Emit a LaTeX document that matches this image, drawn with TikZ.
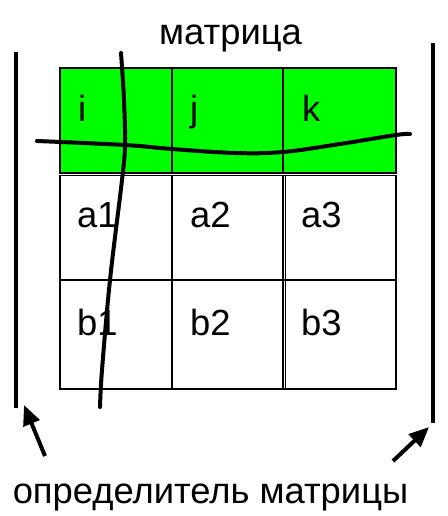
\documentclass[tikz,border=0pt]{standalone}
\usepackage{fontspec}
\setmainfont{Liberation Sans}
\usetikzlibrary{arrows.meta}
\begin{document}
\begin{tikzpicture}[x=1bp,y=-1bp,
  grid/.style={draw=black,line width=1.8bp},
  lbl/.style={anchor=base west,inner sep=0,font=\fontsize{36.5}{42}\selectfont},
  bar/.style={line width=3.8bp},
  wave/.style={line width=4bp,line cap=round},
  pointer/.style={line width=4bp,-{Triangle[length=20bp,width=17bp]}}]
\useasboundingbox (0,0) rectangle (448,516);
% header row (green)
\fill[green] (60,68) rectangle (396,173);
\draw[grid] (60,68) rectangle (396,173);
\draw[grid] (172,68) -- (172,173);
\draw[grid] (283,68) -- (283,173);
% body rows
\draw[grid] (60,175.5) rectangle (396,389);
\draw[grid] (60,280) -- (396,280);
\draw[grid] (172,175.5) -- (172,389);
\draw[grid] (283,175.5) -- (283,389);
\draw[line width=1bp] (285.5,175.5) -- (285.5,389);
% labels
\node[lbl] (i) at (78,122) {i};
\node[lbl] (j) at (190,122) {j};
\node[lbl] (k) at (302,122) {k};
\node[lbl] (a1) at (77,227) {a1};
\node[lbl] (a2) at (190,227) {a2};
\node[lbl] (a3) at (301,227) {a3};
\node[lbl] (b1) at (77,335) {b1};
\node[lbl] (b2) at (190,335) {b2};
\node[lbl] (b3) at (301,335) {b3};
\node[anchor=base,inner sep=0,font=\fontsize{36.5}{42}\selectfont] (title) at (230.5,45) {матрица};
\node[anchor=base,inner sep=0,font=\fontsize{36.5}{42}\selectfont] (det) at (210.5,503) {определитель матрицы};
% determinant bars
\coordinate (lt) at (16,52); \coordinate (lb) at (16,408);
\coordinate (rt) at (433,43); \coordinate (rb) at (433,423);
\draw[bar] (lt) -- (lb);
\draw[bar] (rt) -- (rb);
% crossing curves
\draw[wave] plot[smooth,tension=0.6] coordinates {(121,53) (124,100) (125,145) (122,180) (110,280) (102,370) (100,407)};
\draw[wave] plot[smooth,tension=0.6] coordinates {(37,141) (125,145) (172,149) (235,153) (283,152) (340,144) (396,135) (410,134)};
% pointers
\coordinate (p1s) at (45,456); \coordinate (p1e) at (24,405);
\coordinate (p2s) at (393,461); \coordinate (p2e) at (429,427);
\draw[pointer] (p1s) -- (p1e);
\draw[pointer] (p2s) -- (p2e);
\end{tikzpicture}
\end{document}
